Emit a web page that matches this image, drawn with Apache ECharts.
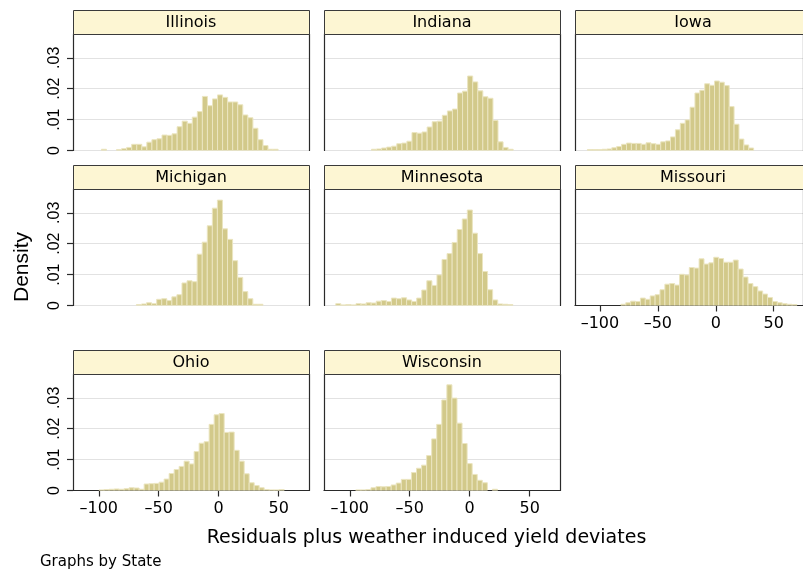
<!DOCTYPE html>
<html><head><meta charset="utf-8">
<script src="https://cdn.jsdelivr.net/npm/echarts@6/dist/echarts.min.js"></script>
<style>html,body{margin:0;padding:0;background:#fff;}#c{width:803px;height:571px;}</style>
</head><body><div id="c"></div>
<script>
// ---- data ----
const states = ['Illinois','Indiana','Iowa','Michigan','Minnesota','Missouri','Ohio','Wisconsin'];
const binStart = [-97.8, -81.9, -110.8, -68.6, -111.7, -81.9, -99.7, -95.0];
const binWidth = [4.21, 4.22, 4.22, 4.22, 4.22, 4.22, 4.17, 4.22];
const densIllinois = [0.0004,0,0,0.0003,0.0006,0.001,0.002,0.002,0.0012,0.0027,0.0035,0.0038,0.005,0.0049,0.0054,0.0077,0.0095,0.0088,0.0108,0.0126,0.0175,0.0145,0.0167,0.018,0.0172,0.0157,0.0157,0.0148,0.0115,0.0106,0.0072,0.0035,0.0016,0.0004,0.0004];
const densIndiana = [0.0004,0.0005,0.0008,0.0011,0.0014,0.0022,0.0024,0.003,0.0058,0.0056,0.006,0.0076,0.0093,0.0095,0.0114,0.0128,0.0134,0.0186,0.0192,0.0241,0.0222,0.0193,0.0174,0.0169,0.0097,0.0028,0.001,0.0004];
const densIowa = [0.0003,0.0003,0.0003,0.0004,0.0005,0.0009,0.0013,0.002,0.0024,0.0023,0.0023,0.002,0.0025,0.0022,0.002,0.0028,0.0031,0.0044,0.0067,0.0088,0.0099,0.014,0.0186,0.0195,0.0216,0.0211,0.0225,0.0221,0.021,0.0142,0.0085,0.0037,0.0018,0.0008];
const densMichigan = [0.0003,0.0005,0.0009,0.0006,0.002,0.0022,0.0016,0.0028,0.0035,0.0073,0.008,0.0077,0.0166,0.0205,0.0258,0.0315,0.0341,0.0248,0.0214,0.0145,0.0091,0.0045,0.0022,0.0004,0.0004];
const densMinnesota = [0.0006,0.0002,0.0003,0.0002,0.0006,0.0005,0.0009,0.0008,0.0014,0.0016,0.0013,0.0024,0.0022,0.0025,0.0018,0.0013,0.0024,0.005,0.008,0.0065,0.0099,0.0149,0.0168,0.0204,0.0246,0.028,0.0309,0.0234,0.0168,0.011,0.0051,0.0018,0.0005,0.0004,0.0003];
const densMissouri = [0.0004,0.0009,0.0014,0.0013,0.0024,0.002,0.0031,0.0035,0.0051,0.0069,0.0071,0.0066,0.0101,0.0099,0.0123,0.0121,0.0151,0.0134,0.0138,0.0156,0.0152,0.014,0.014,0.0147,0.0118,0.0092,0.0071,0.0061,0.0047,0.0037,0.0026,0.0013,0.0009,0.0006,0.0004,0.0003];
const densOhio = [0.0002,0.0003,0.0004,0.0005,0.0004,0.0006,0.0009,0.0008,0.0004,0.0021,0.0022,0.0023,0.0027,0.0037,0.0055,0.0068,0.0078,0.0095,0.0086,0.0126,0.0153,0.0158,0.0214,0.0245,0.0249,0.0188,0.0189,0.013,0.0095,0.0054,0.0025,0.0016,0.0009,0.0003,0.0002,0.0002,0.0003];
const densWisconsin = [0.0002,0.0002,0.0003,0.0009,0.0013,0.0012,0.0013,0.0018,0.0024,0.0036,0.0036,0.0058,0.0072,0.0082,0.0113,0.0167,0.0214,0.0293,0.0342,0.0299,0.0218,0.0152,0.0087,0.0052,0.0033,0.0025,0,0.0004];
const xTicks = [-100, -50, 0, 50];
const yTicks = [0, 0.01, 0.02, 0.03];
const xTitle = 'Residuals plus weather induced yield deviates';
const yTitle = 'Density';
const note = 'Graphs by State';

const densities = [densIllinois, densIndiana, densIowa, densMichigan, densMinnesota, densMissouri, densOhio, densWisconsin];

// ---- layout ----
const colLeft = [73, 324, 575], panelW = 236;
const headerTop = [10, 165, 350], headerH = 24, plotH = 116.5;
const X_MIN = -121.5, X_MAX = 75.3, Y_MAX = 0.0377;
const xLabeled = [false, false, false, false, false, true, true, true];
const HFONT = '"DejaVu Sans", sans-serif';
const VFONT = '"Liberation Sans", Arial, sans-serif';
const DARK = '#2a2a2a';

const grids = [], xAxes = [], yAxes = [], series = [], graphics = [];
states.forEach((name, i) => {
  const r = Math.floor(i / 3), c = i % 3;
  const top = headerTop[r] + headerH;
  grids.push({ left: colLeft[c], top: top, width: panelW, height: plotH });
  xAxes.push({
    type: 'value', gridIndex: i, min: X_MIN, max: X_MAX,
    axisLine: { show: xLabeled[i], lineStyle: { color: DARK, width: 1.2 } },
    axisTick: { show: xLabeled[i], customValues: xTicks, length: 6, lineStyle: { color: DARK, width: 1.2 } },
    axisLabel: { show: xLabeled[i], customValues: xTicks, margin: 10, color: '#000',
      fontFamily: HFONT, fontSize: 16,
      formatter: v => v < 0 ? '\u2013' + Math.abs(v) : String(v) },
    splitLine: { show: false }
  });
  yAxes.push({
    type: 'value', gridIndex: i, min: 0, max: Y_MAX, interval: 0.01, position: 'left',
    axisLine: { show: true, onZero: false, lineStyle: { color: DARK, width: 1.2 } },
    axisTick: { show: c === 0, customValues: yTicks, length: 6, lineStyle: { color: DARK, width: 1.2 } },
    axisLabel: { show: c === 0, customValues: yTicks, rotate: 90, margin: 10, color: '#000',
      fontFamily: VFONT, fontSize: 16,
      formatter: v => v === 0 ? '0' : String(v).replace(/^0/, '') },
    splitLine: { show: true, lineStyle: { color: '#e2e2e2', width: 1.2 } }
  });
  const leftY = yAxes.length - 1;
  yAxes.push({
    type: 'value', gridIndex: i, min: 0, max: 1, position: 'right',
    axisLine: { show: true, onZero: false, lineStyle: { color: DARK, width: 1.2 } },
    axisTick: { show: false }, axisLabel: { show: false }, splitLine: { show: false }
  });
  const d = densities[i];
  const data = d.map((v, k) => [binStart[i] + k * binWidth[i], binStart[i] + (k + 1) * binWidth[i], v]);
  series.push({
    type: 'custom', xAxisIndex: i, yAxisIndex: leftY, clip: true, silent: true,
    encode: { x: [0, 1], y: 2 },
    data: data,
    renderItem: (params, api) => {
      const h = api.value(2);
      if (!h) return null;
      const p0 = api.coord([api.value(0), h]);
      const p1 = api.coord([api.value(1), 0]);
      return { type: 'rect',
        shape: { x: p0[0], y: p0[1], width: p1[0] - p0[0], height: p1[1] - p0[1] },
        style: { fill: '#d2c98a', stroke: '#ebe5c0', lineWidth: 1 } };
    }
  });
  graphics.push({ type: 'rect', left: colLeft[c], top: headerTop[r], z: 10,
    shape: { x: 0.5, y: 0.5, width: panelW, height: headerH },
    style: { fill: '#fdf6d3', stroke: '#3a3a3a', lineWidth: 1 } });
  graphics.push({ type: 'text', z: 11, x: colLeft[c] + panelW / 2, y: headerTop[r] + headerH / 2 + 0.5,
    style: { text: name, fill: '#000', font: '16px ' + HFONT, textAlign: 'center', textVerticalAlign: 'middle' } });
});

graphics.push({ type: 'text', x: 22, y: 267, rotation: Math.PI / 2,
  style: { text: yTitle, fill: '#000', font: '21px ' + VFONT, textAlign: 'center', textVerticalAlign: 'middle' } });
graphics.push({ type: 'text', x: 426.5, y: 538,
  style: { text: xTitle, fill: '#000', font: '19px ' + HFONT, textAlign: 'center', textVerticalAlign: 'middle' } });
graphics.push({ type: 'text', x: 40, y: 562,
  style: { text: note, fill: '#000', font: '15px ' + HFONT, textAlign: 'left', textVerticalAlign: 'middle' } });

const chart = echarts.init(document.getElementById('c'), null, { renderer: 'canvas' });
chart.setOption({
  backgroundColor: '#fff',
  animation: false,
  grid: grids, xAxis: xAxes, yAxis: yAxes, series: series, graphic: graphics
});
</script></body></html>
